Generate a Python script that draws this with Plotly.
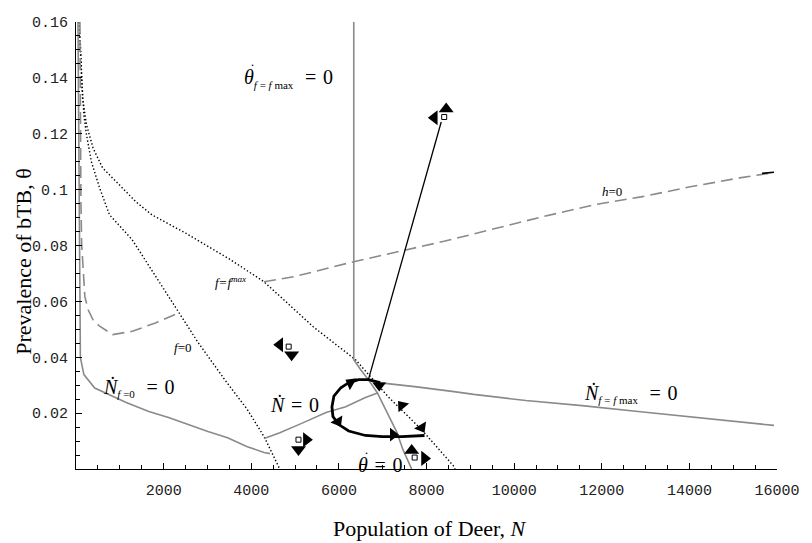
import plotly.graph_objects as go

# ---------------- data ----------------
# theta-dot = 0 isocline for f = fmax (vertical) continuing as theta-dot = 0
thf_N = [6340, 6340, 6494, 6674, 6876, 7101, 7325, 7460, 7662]
thf_T = [0.16, 0.0391, 0.0356, 0.0320, 0.0273, 0.0202, 0.0131, 0.0070, 0.0]

# N-dot = 0 for f = fmax
nfm_N = [6898, 7730, 8628, 9078, 10269, 11550, 12830, 13954, 15302, 15931]
nfm_T = [0.0309, 0.0295, 0.0277, 0.0267, 0.0245, 0.0227, 0.0206, 0.0188, 0.0168, 0.0156]

# N-dot = 0 for f = 0
nf0_N = [45, 67, 90, 100, 180, 427, 1146, 1663, 2112, 2562, 3011, 3460, 3910, 4292, 4427]
nf0_T = [0.16, 0.0963, 0.05, 0.0399, 0.0338, 0.029, 0.0238, 0.0206, 0.0184, 0.0159, 0.0134,
         0.0112, 0.0080, 0.0059, 0.0055]

# N-dot = 0 (interior)
n0_N = [4292, 4652, 5190, 5707, 6157, 6606, 6898]
n0_T = [0.0109, 0.0130, 0.0166, 0.0202, 0.0223, 0.0256, 0.0273]

# f = 0 boundary (dotted)
f0_N = [67, 106, 135, 180, 240, 353, 539, 764, 1281, 2337, 2786, 3393, 3910, 4292, 4517, 4651]
f0_T = [0.16, 0.1507, 0.1385, 0.1267, 0.1196, 0.1099, 0.1006, 0.0910, 0.0821, 0.0560, 0.0453,
        0.0320, 0.0213, 0.0116, 0.0045, 0.0]

# f = fmax boundary (dotted)
fm_N = [67, 150, 240, 389, 607, 989, 1371, 1730, 2494, 3528, 4292, 4741, 5415, 6381, 7123,
        7887, 8628, 8651]
fm_T = [0.16, 0.1328, 0.1232, 0.1149, 0.1078, 0.1017, 0.0956, 0.0910, 0.0845, 0.0749, 0.0670,
        0.0606, 0.0509, 0.0391, 0.0259, 0.0141, 0.0009, 0.0]

# h = 0 (dashed), part in f=0 region and part beyond f = fmax
hA_N = [90, 101, 112, 128, 202, 277, 389, 539, 838, 1288, 1813, 2337]
hA_T = [0.16, 0.114, 0.0963, 0.0809, 0.0617, 0.0570, 0.0534, 0.0511, 0.0481, 0.0493, 0.0523, 0.0558]
hB_N = [4292, 4966, 6340, 8400, 10651, 11842, 12898, 14021, 15145, 15886]
hB_T = [0.0670, 0.0688, 0.0742, 0.0815, 0.0903, 0.0946, 0.0974, 0.1010, 0.1042, 0.1060]
hTip_N = [15660, 15931]
hTip_T = [0.1058, 0.1062]

# trajectories
traj_N = [6674, 8336]
traj_T = [0.0320, 0.1242]
cyc_N = [6943, 6674, 6449, 6224, 6044, 5887, 5842, 5864, 5999, 6224, 6606, 6988, 7438, 7955]
cyc_T = [0.0309, 0.0320, 0.0320, 0.0309, 0.0291, 0.0261, 0.0223, 0.0188, 0.0159, 0.0136,
         0.0120, 0.0116, 0.0116, 0.0120]

# direction markers (arrow heads) : position and direction angle (0 = up, clockwise)
dir_N = [8449, 8179, 4651, 4921, 5258, 5078, 7662, 7955]
dir_T = [0.1289, 0.1257, 0.0445, 0.0409, 0.0105, 0.0070, 0.0066, 0.0038]
dir_A = [0, 270, 270, 180, 90, 180, 0, 90]
sq_N = [8404, 4854, 5078, 7730]
sq_T = [0.1260, 0.0438, 0.0105, 0.0041]

cyc_arrow_N = [6269, 6921, 7438, 7887, 7236, 5977]
cyc_arrow_T = [0.0309, 0.0299, 0.0227, 0.0148, 0.0123, 0.0170]
cyc_arrow_A = [300, 180, 320, 150, 90, 150]

x_ticks = [2000, 4000, 6000, 8000, 10000, 12000, 14000, 16000]
x_ticktext = ["2000", "4000", "6000", "8000", "10000", "12000", "14000", "16000"]
y_ticks = [0.02, 0.04, 0.06, 0.08, 0.10, 0.12, 0.14, 0.16]
y_ticktext = ["0.02", "0.04", "0.06", "0.08", "0.1", "0.12", "0.14", "0.16"]

# ---------------- figure ----------------
GRAY = "#8a8a8a"
fig = go.Figure()

def line(x, y, color, width, dash="solid"):
    fig.add_trace(go.Scatter(x=x, y=y, mode="lines", line=dict(color=color, width=width, dash=dash),
                             hoverinfo="skip", showlegend=False))

DOT = "1.4px,2.2px"
DASH = "12px,6px"
line(f0_N, f0_T, "black", 1.4, DOT)
line(fm_N, fm_T, "black", 1.4, DOT)
line(hA_N, hA_T, GRAY, 1.6, DASH)
line(hB_N, hB_T, GRAY, 1.6, DASH)
line(hTip_N, hTip_T, "black", 1.6)
line(nf0_N, nf0_T, GRAY, 1.6)
line(n0_N, n0_T, GRAY, 1.6)
line(nfm_N, nfm_T, GRAY, 1.6)
line(thf_N, thf_T, GRAY, 1.6)
line(traj_N, traj_T, "black", 1.3)
line(cyc_N, cyc_T, "black", 2.8)

fig.add_trace(go.Scatter(x=dir_N, y=dir_T, mode="markers",
                         marker=dict(symbol="triangle-up", size=13, color="black", angle=dir_A,
                                     line=dict(width=0)),
                         hoverinfo="skip", showlegend=False))
fig.add_trace(go.Scatter(x=sq_N, y=sq_T, mode="markers",
                         marker=dict(symbol="square", size=5, color="white",
                                     line=dict(color="black", width=1)),
                         hoverinfo="skip", showlegend=False))
fig.add_trace(go.Scatter(x=cyc_arrow_N, y=cyc_arrow_T, mode="markers",
                         marker=dict(symbol="triangle-up", size=12, color="black", angle=cyc_arrow_A,
                                     line=dict(width=0)),
                         hoverinfo="skip", showlegend=False))

SERIF = "Liberation Serif"
big = dict(family=SERIF, size=20, color="black")
small = dict(family=SERIF, size=13, color="black")

def label(x, y, text, font, anchor="center"):
    fig.add_annotation(x=x, y=y, xref="x", yref="y", text=text, showarrow=False, font=font,
                       xanchor=anchor, yanchor="middle", align="left")

def sub(s):
    return '<sub><span style="font-size:11px">' + s + '</span></sub>'

def dotted_theta(rest):
    # two-line text: a dot accent on a tight first line, then the theta expression
    return ('<span style="font-size:15px">\u2009\u2009\u02d9</span><br>'
            '<span style="font-size:20px"><i>θ</i>' + rest + '</span>')

EQ0 = " \u200a= \u200a0"
N_DOT = "<i>\u1e44</i>"
tiny = dict(family=SERIF, size=8, color="black")

label(3797, 0.1405, dotted_theta(sub("<i>f</i> = <i>f</i> max") + " " + EQ0), tiny, "left")
label(6381, 0.0025, dotted_theta(EQ0), tiny, "left")
label(1438, 0.0291, N_DOT + sub("<i>f</i> =0") + " " + EQ0, big)
label(4988, 0.0230, N_DOT + EQ0, big)
label(12673, 0.0270, N_DOT + sub("<i>f</i> = <i>f</i> max") + " " + EQ0, big)
label(3528, 0.0670, "<i>f=f<sup>max</sup></i>", small)
label(2427, 0.0434, "<i>f</i>=0", small)
label(12224, 0.0992, "<i>h</i>=0", small)

fig.add_annotation(x=-0.076, y=0.463, xref="paper", yref="paper", text="Prevalence of bTB, θ",
                   textangle=-90, showarrow=False, font=dict(family=SERIF, size=22, color="black"),
                   xanchor="center", yanchor="middle")
fig.add_annotation(x=0.505, y=-0.132, xref="paper", yref="paper", text="Population of Deer, <i>N</i>",
                   showarrow=False, font=dict(family=SERIF, size=22, color="black"),
                   xanchor="center", yanchor="middle")

TICKFONT = dict(family="Liberation Mono", size=15, color="#222")
fig.update_xaxes(range=[0, 16000], showgrid=False, zeroline=False, showline=True,
                 linecolor="black", linewidth=1, ticks="inside", ticklen=6, tickcolor="black",
                 tickwidth=1, tickmode="array", tickvals=x_ticks, ticktext=x_ticktext,
                 tickfont=TICKFONT, ticklabelstandoff=7,
                 minor=dict(ticks="inside", ticklen=4, tickcolor="black", tickwidth=1,
                            tickmode="linear", tick0=0, dtick=500))
fig.update_yaxes(range=[0, 0.16], showgrid=False, zeroline=False, showline=True,
                 linecolor="black", linewidth=1, ticks="inside", ticklen=6, tickcolor="black",
                 tickwidth=1, tickmode="array", tickvals=y_ticks, ticktext=y_ticktext,
                 tickfont=TICKFONT, ticklabelstandoff=4,
                 minor=dict(ticks="inside", ticklen=4, tickcolor="black", tickwidth=1,
                            tickmode="linear", tick0=0, dtick=0.005))
fig.update_layout(width=812, height=543, margin=dict(l=76, r=24, t=22, b=73.5),
                  plot_bgcolor="white", paper_bgcolor="white", showlegend=False)
fig.write_html("out.html")
